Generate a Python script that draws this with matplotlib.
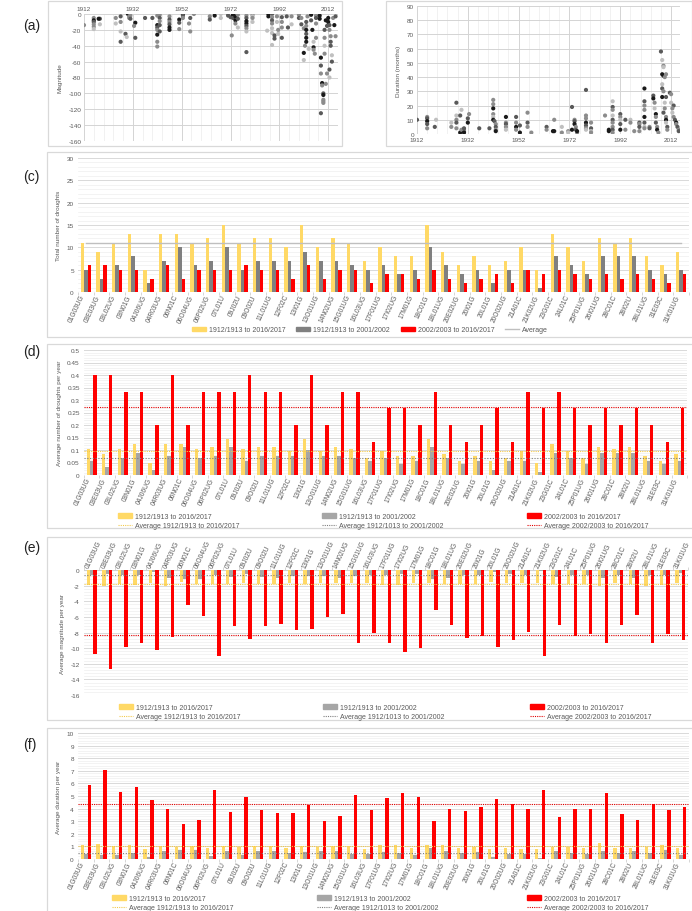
import numpy as np
import matplotlib
matplotlib.use("Agg")
import matplotlib.pyplot as plt
import matplotlib.transforms as mtransforms
from matplotlib.patches import Rectangle, Patch
from matplotlib.lines import Line2D
from matplotlib.ticker import MultipleLocator, FixedLocator, FuncFormatter

plt.rcParams['font.family'] = ['Liberation Sans', 'DejaVu Sans']
plt.rcParams['axes.unicode_minus'] = False

# ---------------- data ----------------
stations = ["01G03UG", "03E03UG", "03L02UG", "03N01G", "04J06UG", "04R03UG", "06N01C",
            "06O04UG", "06P02UG", "07L01U", "09J02U", "09O02U", "11L01UG", "12F02C",
            "13I01G", "13O01UG", "14N02UG", "15G01UG", "16L03UG", "17F01UG", "17I02UG",
            "17M01G", "18C01G", "18L01UG", "20E02UG", "20I01G", "20L01G", "20O02UG",
            "21A01C", "21K02UG", "23G01C", "24L01C", "25P01UG", "26I01UG", "28C01C",
            "28I02U", "28L01UG", "31E03C", "31K01UG"]

# (c) total number of droughts
n_all = [11, 9, 11, 13, 5, 13, 13, 11, 12, 15, 11, 12, 12, 10, 15, 10, 12, 11, 7, 10,
         8, 8, 15, 9, 6, 8, 6, 7, 10, 5, 13, 10, 7, 12, 11, 12, 8, 6, 9]
n_early = [5, 3, 6, 8, 2, 7, 10, 6, 7, 10, 5, 7, 7, 7, 9, 7, 7, 6, 5, 6,
           4, 5, 10, 6, 4, 5, 2, 5, 5, 1, 8, 6, 4, 8, 8, 8, 5, 4, 5]
n_late = [6, 6, 5, 5, 3, 6, 3, 5, 5, 5, 6, 5, 5, 3, 6, 3, 5, 5, 2, 4,
          4, 3, 5, 3, 2, 3, 4, 2, 5, 4, 5, 4, 3, 4, 3, 4, 3, 2, 4]
n_avg = 11

# (d) average number of droughts per year
f_all = [0.105, 0.086, 0.105, 0.124, 0.048, 0.124, 0.124, 0.105, 0.114, 0.143, 0.105, 0.114,
         0.114, 0.095, 0.143, 0.095, 0.114, 0.105, 0.067, 0.095, 0.076, 0.076, 0.143, 0.086,
         0.057, 0.076, 0.057, 0.067, 0.095, 0.048, 0.124, 0.095, 0.067, 0.114, 0.105, 0.114,
         0.076, 0.057, 0.086]
f_early = [0.056, 0.033, 0.067, 0.089, 0.022, 0.078, 0.111, 0.067, 0.078, 0.111, 0.056, 0.078,
           0.078, 0.078, 0.100, 0.078, 0.078, 0.067, 0.056, 0.067, 0.044, 0.056, 0.111, 0.067,
           0.044, 0.056, 0.022, 0.056, 0.056, 0.011, 0.089, 0.067, 0.044, 0.089, 0.089, 0.089,
           0.056, 0.044, 0.056]
f_late = [0.4, 0.4, 0.333, 0.333, 0.2, 0.4, 0.2, 0.333, 0.333, 0.333, 0.4, 0.333, 0.333, 0.2,
          0.4, 0.2, 0.333, 0.333, 0.133, 0.267, 0.267, 0.2, 0.333, 0.2, 0.133, 0.2, 0.267,
          0.133, 0.333, 0.267, 0.333, 0.267, 0.2, 0.267, 0.2, 0.267, 0.2, 0.133, 0.267]
f_avgs = [0.096, 0.067, 0.273]

# (e) average magnitude per year
m_all = [-1.9, -2.1, -1.8, -1.9, -1.7, -2.0, -1.5, -1.8, -1.8, -1.8, -1.6, -1.8, -1.8, -1.7,
         -1.8, -1.7, -1.6, -1.7, -1.7, -1.9, -1.9, -1.7, -1.7, -1.8, -1.8, -1.8, -1.5, -1.6,
         -1.7, -1.7, -1.8, -1.8, -1.8, -2.1, -1.7, -1.8, -2.0, -1.9, -1.6]
m_early = [-0.6, -0.5, -0.6, -0.6, -0.3, -1.0, -1.1, -1.2, -0.6, -0.9, -0.5, -0.9, -1.0, -0.8,
           -0.8, -0.8, -1.0, -0.8, -0.6, -0.7, -0.5, -0.5, -1.1, -1.0, -0.6, -0.6, -0.2, -0.5,
           -0.6, -0.1, -0.9, -0.6, -0.6, -1.0, -0.7, -1.0, -0.6, -0.6, -0.4]
m_late = [-10.8, -12.7, -9.9, -9.4, -10.2, -8.6, -4.5, -5.9, -11.0, -7.2, -8.8, -7.2, -6.9,
          -7.7, -7.6, -6.0, -5.6, -9.4, -8.0, -9.3, -10.5, -10.0, -5.1, -7.1, -8.7, -8.5,
          -9.8, -9.0, -7.9, -11.0, -7.0, -8.4, -8.2, -9.3, -7.1, -5.8, -9.4, -8.2, -8.9]
m_avgs = [-1.75, -0.68, -8.33]

# (f) average duration per year
d_all = [1.1, 1.2, 1.0, 1.15, 0.8, 1.05, 0.95, 1.0, 0.9, 1.05, 0.95, 1.0, 1.05, 0.9, 1.05,
         0.95, 1.0, 1.0, 0.8, 1.1, 1.1, 0.9, 1.1, 1.1, 0.85, 0.95, 0.8, 0.9, 0.8, 0.8, 0.95,
         0.95, 0.85, 1.3, 0.85, 0.9, 0.95, 1.1, 0.85]
d_early = [0.4, 0.3, 0.35, 0.45, 0.15, 0.6, 0.75, 0.75, 0.2, 0.65, 0.35, 0.6, 0.65, 0.5, 0.55,
           0.65, 0.65, 0.4, 0.4, 0.55, 0.5, 0.3, 0.85, 0.65, 0.45, 0.55, 0.15, 0.4, 0.4, 0.1,
           0.6, 0.45, 0.4, 0.65, 0.45, 0.6, 0.45, 0.75, 0.3]
d_late = [5.85, 7.1, 5.3, 5.7, 4.65, 4.0, 2.8, 3.1, 5.5, 3.75, 4.95, 3.85, 3.65, 3.65, 4.3,
          3.05, 3.45, 5.05, 3.85, 4.85, 5.25, 4.95, 3.0, 3.95, 3.8, 4.15, 4.8, 4.4, 3.95, 5.45,
          3.35, 4.0, 4.0, 5.2, 3.6, 3.1, 4.4, 3.9, 4.15]
d_avgs = [1.03, 0.46, 4.34]

# (a) drought events: (year, magnitude, shade)
mag_events = [
    (1912, -14, 2), (1916, -5, 2), (1916, -8, 0), (1916, -10, 1), (1916, -13, 2), (1916, -16, 2),
    (1916, -19, 3), (1918.5, -6, 1), (1918.5, -13, 3), (1918, -6, 0), (1925, -5, 2), (1925, -12, 3),
    (1927, -3, 1), (1927, -10, 2), (1927, -22, 3), (1927, -35, 1), (1929, -25, 1), (1929.5, -29, 3),
    (1930, 0, 0), (1930.5, -1, 0), (1930.5, -3, 2), (1930.5, -5, 2), (1931, -2, 2), (1931, -6, 1),
    (1933, -11, 0), (1932.5, -15, 2), (1933, -30, 1), (1937, -5, 1), (1940, -5, 1),
    (1942, -2, 2), (1942, -14, 0), (1942, -26, 0), (1942, -35, 2), (1942, -41, 2), (1942, -17, 1),
    (1942, -20, 2), (1943, -1, 2), (1943, -5, 1), (1943, -14, 1), (1943, -9, 2), (1943, -22, 1),
    (1947, -3, 2), (1947, -7, 1), (1947, -10, 2), (1947, -13, 1), (1947, -17, 0), (1947, -20, 0),
    (1951, -7, 0), (1951, -11, 1), (1951, -19, 2), (1952.5, 0, 0), (1952.5, -2, 1), (1952.5, -5, 2),
    (1955, -12, 2), (1955.5, -22, 2), (1955.5, -5, 1), (1957, 0, 2), (1963.5, -3, 2), (1963.5, -7, 1),
    (1965.5, -2, 0), (1968, 0, 3), (1968, -5, 3), (1971, 0, 2), (1971, -2, 1), (1972, -4, 1),
    (1972.5, -27, 2), (1973, -1, 0), (1973, -5, 1), (1974, -3, 0), (1974, -8, 0), (1974, -12, 2),
    (1975, -1, 2), (1975, -6, 1), (1975, -17, 3), (1978.5, -2, 2), (1978.5, -5, 1), (1978.5, -9, 0),
    (1978.5, -12, 0), (1978.5, -15, 1), (1978.5, -18, 2), (1978.5, -22, 3), (1978.5, -48, 1),
    (1981, -1, 2), (1981, -3, 3), (1981, -5, 2), (1981, -10, 3), (1987, -21, 3), (1987.5, 0, 0),
    (1987.5, -3, 0), (1989, 0, 1), (1989, -4, 2), (1989, -8, 1), (1989, -12, 2), (1989, -18, 3),
    (1989, -24, 3), (1989, -39, 3), (1990, -27, 1), (1990, -31, 1), (1991, -3, 2), (1991, -10, 3),
    (1991.5, -20, 2), (1991.5, -25, 3), (1993, -4, 1), (1993, -10, 2), (1993, -17, 2), (1993, -30, 1),
    (1995, -3, 1), (1995.5, -17, 1), (1997, -3, 2), (1997, -13, 3), (2000, -1, 2), (2000, -5, 1),
    (2001, -5, 2), (2001, -13, 1), (2002, -18, 2), (2002, -49, 0), (2002, -58, 3), (2002.5, -40, 2),
    (2003, -35, 0), (2003, -30, 0), (2003, -25, 1), (2003, -20, 0), (2003, -15, 2), (2003, -10, 1),
    (2003.5, -3, 2), (2004, -44, 3), (2005, -1, 0), (2005, -8, 1), (2005.5, -20, 0), (2006, -42, 0),
    (2006, -45, 2), (2006, -35, 3), (2006.5, -50, 2), (2007, -2, 2), (2007, -5, 1), (2007, -12, 2),
    (2007, -30, 2), (2008.5, -2, 0), (2008.5, -6, 0), (2009, -55, 0), (2009, -65, 1), (2009, -75, 2),
    (2009.5, -87, 0), (2009.5, -90, 2), (2010, -100, 1), (2010, -102, 0), (2010, -108, 2),
    (2010, -110, 2), (2010, -112, 2), (2009, -125, 1), (2010.5, -50, 2), (2010.5, -40, 3),
    (2010.5, -30, 2), (2010.5, -20, 1), (2011, -88, 2), (2011, -8, 0), (2011.5, -15, 1),
    (2011.5, -75, 2), (2012, -5, 0), (2012, -10, 0), (2012.5, -14, 1), (2012.5, -20, 2),
    (2013, -28, 2), (2013, -35, 1), (2013, -40, 1), (2013.5, -52, 3), (2013.5, -60, 1),
    (2012.5, -70, 1), (2012.5, -80, 3), (2014, -5, 2), (2014.5, -14, 0), (2015, -28, 2), (2015, -3, 1),
]

# (b) drought events: (year, duration in months, shade)
dur_events = [
    (1912, 10, 1), (1916, 12, 2), (1916, 11, 1), (1916, 9, 0), (1916, 7, 1), (1916, 4, 2),
    (1919, 5, 1), (1919.5, 10, 3), (1925.5, 8, 3), (1925.5, 5, 2), (1927.5, 22, 1), (1927.5, 13, 3),
    (1927.5, 10, 2), (1927.5, 8, 1), (1927.5, 4, 2), (1929, 13, 1), (1929.5, 17, 3), (1929, 1, 0),
    (1929.5, 3, 2), (1930.5, 2, 1), (1930.5, 3, 2), (1930.5, 4, 1), (1930.5, 1, 0), (1932, 11, 1),
    (1932.5, 14, 2), (1932, 8, 0), (1936.5, 4, 1), (1940.5, 4, 1), (1942, 24, 2), (1942, 21, 2),
    (1942, 18, 0), (1942, 14, 2), (1942, 12, 3), (1942, 10, 0), (1942.5, 9, 1), (1943, 7, 2),
    (1943, 5, 1), (1943, 3, 2), (1943, 2, 0), (1947, 12, 0), (1947, 8, 2), (1947, 7, 1), (1947, 5, 2),
    (1947, 3, 3), (1951, 12, 1), (1951, 8, 2), (1951, 5, 0), (1951, 3, 2), (1952.5, 6, 1),
    (1952.5, 1, 0), (1955.5, 15, 2), (1955.5, 8, 1), (1955.5, 5, 2), (1957, 1, 2), (1963, 5, 1),
    (1963, 3, 2), (1965.5, 2, 0), (1966, 2, 0), (1966, 10, 2), (1969, 5, 3), (1969, 1, 2),
    (1971.5, 2, 2), (1971.5, 1, 3), (1973, 19, 1), (1973, 3, 0), (1974, 10, 2), (1974, 9, 1),
    (1974, 7, 0), (1974.5, 5, 2), (1974.5, 3, 1), (1975, 1, 2), (1975, 2, 0), (1978.5, 31, 1),
    (1978.5, 13, 2), (1978.5, 11, 2), (1978.5, 8, 0), (1978.5, 6, 1), (1978.5, 4, 2), (1978.5, 3, 3),
    (1980.5, 8, 2), (1980.5, 4, 1), (1980.5, 2, 3), (1980.5, 1, 2), (1986, 13, 2), (1987.5, 3, 0),
    (1987.5, 2, 0), (1989, 23, 3), (1989, 19, 1), (1989, 17, 2), (1989, 13, 3), (1989, 10, 1),
    (1989, 8, 2), (1989, 5, 2), (1989, 3, 1), (1989, 1, 2), (1992, 14, 1), (1992, 12, 2),
    (1992, 10, 3), (1992, 7, 1), (1992, 3, 0), (1994, 10, 1), (1994, 3, 2), (1996, 10, 3),
    (1996, 8, 2), (1997.5, 2, 2), (1999.5, 8, 1), (1999.5, 7, 2), (1999.5, 5, 1), (1999.5, 2, 2),
    (2001.5, 32, 0), (2001.5, 23, 1), (2001.5, 20, 2), (2001.5, 17, 2), (2001.5, 12, 0),
    (2001.5, 8, 1), (2001.5, 5, 3), (2001.5, 4, 2), (2003.5, 5, 2), (2003.5, 4, 1), (2005, 27, 1),
    (2005, 25, 0), (2005.5, 22, 2), (2005.5, 18, 3), (2006, 14, 0), (2006, 12, 2), (2006, 8, 1),
    (2006.5, 5, 2), (2006.5, 3, 0), (2007, 1, 2), (2008, 58, 1), (2008.5, 52, 3), (2009, 48, 2),
    (2009, 47, 3), (2008.5, 42, 0), (2009, 41, 0), (2009.5, 40, 2), (2008.5, 35, 3), (2008.5, 32, 1),
    (2009, 30, 2), (2008.5, 26, 0), (2009.5, 22, 3), (2009.5, 18, 2), (2009, 15, 1), (2010, 12, 2),
    (2010, 10, 0), (2010, 8, 3), (2010.5, 5, 1), (2010.5, 3, 2), (2010, 42, 2), (2010, 26, 1),
    (2011.5, 29, 1), (2012, 28, 2), (2012, 22, 3), (2013, 20, 1), (2012.5, 18, 2), (2012.5, 15, 3),
    (2013, 12, 2), (2013.5, 10, 1), (2014, 8, 0), (2014, 7, 2), (2014.5, 5, 1), (2015, 3, 2),
    (2015, 2, 1),
]

lab_all = "1912/1913 to 2016/2017"
lab_early = "1912/1913 to 2001/2002"
lab_late = "2002/2003 to 2016/2017"
avg_labels = ["Average 1912/1913 to 2016/2017", "Average 1912/1013 to 2001/2002",
              "Average 2002/2003 to 2016/2017"]

# ---------------- style ----------------
YEL = '#FFD966'
GRY_DARK = '#808080'
GRY = '#A6A6A6'
RED = '#FF0000'
TXT = '#595959'
SHADES = ['#1a1a1a', '#595959', '#8c8c8c', '#c0c0c0']
FS = 4.6

W, H = 692, 912
fig = plt.figure(figsize=(W / 100, H / 100), dpi=100)


def px_axes(l, t, r, b):
    return fig.add_axes([l / W, 1 - b / H, (r - l) / W, (b - t) / H])


def box(l, t, r, b):
    fig.patches.append(Rectangle((l / W, 1 - b / H), (r - l) / W, (b - t) / H,
                                 transform=fig.transFigure, fill=False,
                                 edgecolor='#D9D9D9', lw=0.9))


def panel_label(y, s):
    fig.text(23 / W, 1 - y / H, s, fontsize=10, va='center', ha='left', color='#222222')


fmt = FuncFormatter(lambda v, p: '%g' % round(v, 4))

# ---------------- (a) + (b) scatter ----------------
box(48, 2, 342, 147)
box(386, 2, 692, 147)
panel_label(26, '(a)')


def scatter_panel(ax, events, ylim, ystep):
    yrs = [e[0] for e in events]
    vals = [e[1] for e in events]
    cols = [SHADES[e[2]] for e in events]
    ax.scatter(yrs, vals, s=9, c=cols, linewidths=0, zorder=3)
    ax.set_ylim(*ylim)
    ax.xaxis.set_major_locator(FixedLocator(np.arange(1912, 2017, 20)))
    ax.xaxis.set_minor_locator(FixedLocator(np.arange(1912, 2017, 4)))
    ax.yaxis.set_major_locator(MultipleLocator(ystep))
    ax.grid(which='major', color='#D4D4D4', lw=0.7)
    ax.grid(which='minor', axis='x', color='#EBEBEB', lw=0.5)
    ax.set_axisbelow(True)
    for s in ax.spines.values():
        s.set_visible(False)
    ax.tick_params(which='both', length=0, labelsize=FS, labelcolor=TXT, pad=2)


ax_a = px_axes(84, 15, 338, 142)
scatter_panel(ax_a, mag_events, (-160, 0), 20)
ax_a.set_xlim(1912, 2016)
ax_a.xaxis.tick_top()
ax_a.set_ylabel('Magnitude', fontsize=FS, color=TXT, labelpad=4)

ax_b = px_axes(417, 7, 680, 135)
scatter_panel(ax_b, dur_events, (0, 90), 10)
ax_b.set_xlim(1912, 2015.5)
ax_b.set_ylabel('Duration (months)', fontsize=FS, color=TXT, labelpad=4)

# ---------------- bar panels ----------------
x = np.arange(len(stations))


def bar_panel(ax, ya, ga, ra, gcol, ylim, major, minor, top=False):
    w = 0.22
    ax.bar(x - w, ya, w, color=YEL, zorder=2)
    ax.bar(x, ga, w, color=gcol, zorder=2)
    ax.bar(x + w, ra, w, color=RED, zorder=2)
    ax.set_xlim(-0.5, len(stations) - 0.5)
    ax.set_ylim(*ylim)
    ax.yaxis.set_major_locator(MultipleLocator(major))
    ax.yaxis.set_minor_locator(MultipleLocator(minor))
    ax.yaxis.set_major_formatter(fmt)
    ax.grid(which='major', axis='y', color='#D9D9D9', lw=0.7)
    ax.grid(which='minor', axis='y', color='#EFEFEF', lw=0.5)
    ax.set_axisbelow(True)
    for s in ax.spines.values():
        s.set_visible(False)
    ax.axhline(0, color='#D0D0D0', lw=0.8, zorder=1)
    ax.tick_params(axis='y', which='both', length=0, labelsize=FS, labelcolor=TXT, pad=3)
    ax.set_xticks(x)
    ax.set_xticks(np.arange(-0.5, len(stations)), minor=True)
    ax.set_xticklabels(stations)
    if top:
        ax.xaxis.tick_top()
    ax.tick_params(axis='x', which='major', length=0, labelsize=4.8, labelcolor=TXT, pad=2)
    ax.tick_params(axis='x', which='minor', length=2.5, color='#D0D0D0', width=0.6)
    shift = mtransforms.ScaledTranslation((-4 if top else -3) / 100, 0, fig.dpi_scale_trans)
    for lbl in ax.get_xticklabels():
        lbl.set_rotation(65)
        lbl.set_rotation_mode('anchor')
        lbl.set_va('center')
        lbl.set_ha('left' if top else 'right')
        lbl.set_transform(lbl.get_transform() + shift)


def avg_lines(ax, avgs):
    ax.axhline(avgs[0], color='#F2C94C', ls=(0, (1, 1)), lw=0.8, zorder=3)
    ax.axhline(avgs[1], color='#7F7F7F', ls=(0, (1, 1.5)), lw=0.8, zorder=3)
    ax.axhline(avgs[2], color='#E00000', ls=(0, (1, 1)), lw=0.8, zorder=3)


def three_legends(cols_x, y_top):
    items = [(YEL, '#F2C94C', lab_all, avg_labels[0]),
             (GRY, '#7F7F7F', lab_early, avg_labels[1]),
             (RED, '#E00000', lab_late, avg_labels[2])]
    for cx, (bc, lc, lb, la) in zip(cols_x, items):
        fig.legend(handles=[Patch(color=bc), Line2D([], [], color=lc, ls=(0, (1, 1)), lw=0.8)],
                   labels=[lb, la], loc='upper left',
                   bbox_to_anchor=(cx / W, 1 - y_top / H), frameon=False, fontsize=5,
                   labelspacing=0.35, handlelength=2.0, handleheight=0.55,
                   handletextpad=0.4, borderpad=0, borderaxespad=0, labelcolor=TXT)


# (c)
box(47, 153, 700, 338)
panel_label(177, '(c)')
ax_c = px_axes(78, 159, 689, 293)
bar_panel(ax_c, n_all, n_early, n_late, GRY_DARK, (0, 30), 5, 1)
ax_c.plot(x, [n_avg] * len(x), color='#BFBFBF', lw=1.0, zorder=3)
ax_c.set_ylabel('Total number of droughts', fontsize=FS, color=TXT, labelpad=4)
fig.legend(handles=[Patch(color=YEL), Patch(color=GRY_DARK), Patch(color=RED),
                    Line2D([], [], color='#BFBFBF', lw=1.0)],
           labels=[lab_all, lab_early, lab_late, 'Average'], ncol=4, loc='center',
           bbox_to_anchor=(370 / W, 1 - 331 / H), frameon=False, fontsize=5,
           handlelength=2.0, handleheight=0.55, handletextpad=0.4, columnspacing=1.6,
           labelcolor=TXT)

# (d)
box(47, 345, 700, 529)
panel_label(352, '(d)')
ax_d = px_axes(84, 351, 687, 476)
bar_panel(ax_d, f_all, f_early, f_late, GRY, (0, 0.5), 0.05, 0.01)
avg_lines(ax_d, f_avgs)
ax_d.set_ylabel('Average number of droughts per year', fontsize=FS, color=TXT, labelpad=4)
three_legends([118, 322, 527], 514)

# (e)
box(47, 538, 700, 721)
panel_label(548, '(e)')
ax_e = px_axes(84, 571, 688, 696)
bar_panel(ax_e, m_all, m_early, m_late, GRY, (-16, 0), 2, 0.4, top=True)
avg_lines(ax_e, m_avgs)
ax_e.set_ylabel('Average magnitude per year', fontsize=FS, color=TXT, labelpad=4)
three_legends([119, 323, 530], 705)

# (f)
box(47, 729, 700, 930)
panel_label(745, '(f)')
ax_f = px_axes(78, 734, 689, 860)
bar_panel(ax_f, d_all, d_early, d_late, GRY, (0, 10), 1, 0.2)
avg_lines(ax_f, d_avgs)
ax_f.set_ylabel('Average duration per year', fontsize=FS, color=TXT, labelpad=4)
three_legends([112, 317, 527], 896)

fig.savefig('out.png', dpi=100)
